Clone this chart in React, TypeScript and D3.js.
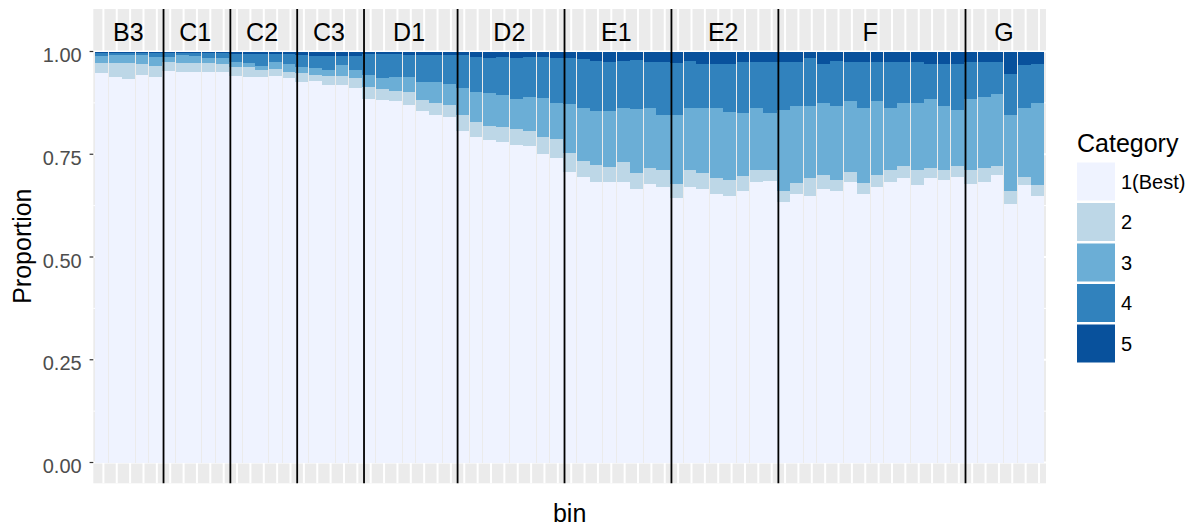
import React from 'react';
import * as d3 from 'd3';

// ---- data ----
const groups = ['B3', 'C1', 'C2', 'C3', 'D1', 'D2', 'E1', 'E2', 'F', 'G'];
const groupSizes = [5, 5, 5, 5, 7, 8, 8, 8, 14, 6];
const categories = ['1(Best)', '2', '3', '4', '5'];
const categoryColors = ['#EFF3FF', '#BDD7E7', '#6BAED6', '#3182BD', '#08519C'];

const cat1 = [
  0.947, 0.937, 0.932, 0.943, 0.937,
  0.953, 0.949, 0.949, 0.949, 0.949,
  0.940, 0.937, 0.937, 0.940, 0.935,
  0.927, 0.929, 0.919, 0.919, 0.910,
  0.884, 0.882, 0.880, 0.871, 0.855, 0.846, 0.841,
  0.807, 0.793, 0.785, 0.781, 0.772, 0.769, 0.751, 0.742,
  0.708, 0.695, 0.682, 0.682, 0.683, 0.666, 0.678, 0.670,
  0.644, 0.671, 0.666, 0.653, 0.648, 0.661, 0.682, 0.686,
  0.635, 0.653, 0.648, 0.666, 0.661, 0.682, 0.653, 0.670, 0.682, 0.691, 0.674, 0.691, 0.687, 0.695,
  0.678, 0.682, 0.700, 0.628, 0.675, 0.648,
];
const cat2 = [
  0.026, 0.034, 0.039, 0.027, 0.028,
  0.022, 0.022, 0.022, 0.022, 0.021,
  0.023, 0.025, 0.018, 0.017, 0.016,
  0.020, 0.014, 0.021, 0.021, 0.025,
  0.030, 0.026, 0.025, 0.030, 0.027, 0.029, 0.030,
  0.039, 0.035, 0.034, 0.035, 0.039, 0.038, 0.042, 0.044,
  0.046, 0.039, 0.042, 0.038, 0.047, 0.038, 0.038, 0.042,
  0.034, 0.041, 0.038, 0.038, 0.039, 0.035, 0.030, 0.026,
  0.026, 0.028, 0.043, 0.034, 0.026, 0.026, 0.028, 0.030, 0.030, 0.030, 0.038, 0.026, 0.025, 0.026,
  0.034, 0.035, 0.021, 0.033, 0.020, 0.027,
];
const cat3 = [
  0.017, 0.020, 0.020, 0.021, 0.022,
  0.012, 0.020, 0.018, 0.012, 0.013,
  0.012, 0.011, 0.010, 0.018, 0.019,
  0.016, 0.016, 0.015, 0.027, 0.020,
  0.030, 0.027, 0.034, 0.038, 0.045, 0.052, 0.051,
  0.064, 0.073, 0.079, 0.078, 0.073, 0.083, 0.095, 0.089,
  0.118, 0.128, 0.131, 0.135, 0.132, 0.155, 0.146, 0.134,
  0.168, 0.150, 0.158, 0.171, 0.167, 0.154, 0.150, 0.138,
  0.197, 0.186, 0.176, 0.175, 0.180, 0.172, 0.181, 0.180, 0.150, 0.154, 0.163, 0.167, 0.155, 0.137,
  0.172, 0.172, 0.176, 0.185, 0.167, 0.200,
];
const cat4 = [
  0.007, 0.006, 0.006, 0.006, 0.010,
  0.009, 0.006, 0.008, 0.013, 0.013,
  0.019, 0.020, 0.028, 0.019, 0.023,
  0.029, 0.031, 0.035, 0.023, 0.035,
  0.051, 0.059, 0.055, 0.053, 0.065, 0.065, 0.070,
  0.082, 0.086, 0.085, 0.093, 0.099, 0.097, 0.099, 0.108,
  0.111, 0.120, 0.123, 0.120, 0.116, 0.120, 0.112, 0.128,
  0.125, 0.116, 0.108, 0.108, 0.116, 0.124, 0.112, 0.124,
  0.117, 0.108, 0.116, 0.095, 0.111, 0.094, 0.112, 0.094, 0.112, 0.099, 0.099, 0.086, 0.103, 0.112,
  0.090, 0.085, 0.077, 0.099, 0.104, 0.095,
];
const cat5 = [
  0.003, 0.003, 0.003, 0.003, 0.003,
  0.004, 0.003, 0.003, 0.004, 0.004,
  0.006, 0.007, 0.007, 0.006, 0.007,
  0.008, 0.010, 0.010, 0.010, 0.010,
  0.005, 0.006, 0.006, 0.008, 0.008, 0.008, 0.008,
  0.008, 0.013, 0.017, 0.013, 0.017, 0.013, 0.013, 0.017,
  0.017, 0.018, 0.022, 0.025, 0.022, 0.021, 0.026, 0.026,
  0.029, 0.022, 0.030, 0.030, 0.030, 0.026, 0.026, 0.026,
  0.025, 0.025, 0.017, 0.030, 0.022, 0.026, 0.026, 0.026, 0.026, 0.026, 0.026, 0.030, 0.030, 0.030,
  0.026, 0.026, 0.026, 0.055, 0.034, 0.030,
];

const yTicks = [0, 0.25, 0.5, 0.75, 1];
const yTickLabels = ['0.00', '0.25', '0.50', '0.75', '1.00'];
const yMinorTicks = [0.125, 0.375, 0.625, 0.875];

// ---- layout / style ----
const W = 1204;
const H = 529;
const FONT = '"Liberation Sans", Arial, sans-serif';
const PANEL_BG = '#EBEBEB';
const GRID_SHIFT = 1.7; // px offset of grid and separators relative to bar edges
const SEAM_PHASE = [1, 3, 4];

const App = () => {
  const n = cat1.length;
  const keys = ['c1', 'c2', 'c3', 'c4', 'c5'];
  const rows = d3.range(n).map((i) => ({
    i,
    c1: cat1[i],
    c2: cat2[i],
    c3: cat3[i],
    c4: cat4[i],
    c5: cat5[i],
  }));
  const stacked = d3.stack<any>().keys(keys)(rows);

  const x = d3.scaleLinear().domain([0, n]).range([95, 1044]);
  const y = d3.scaleLinear().domain([0, 1]).range([462.5, 51.5]);
  const panelLeft = x(0) - 1.7;
  const panelRight = x(n) + 2;
  const panelTop = y(1.1034);
  const panelBottom = y(-0.0506);

  const starts: number[] = [];
  let acc = 0;
  groupSizes.forEach((s) => {
    starts.push(acc);
    acc += s;
  });
  const boundaries = starts.slice(1);
  const boundarySet = new Set(boundaries);

  const seams = d3
    .range(1, n)
    .filter((k) => !boundarySet.has(k) && SEAM_PHASE.includes(k % 5));

  const color = d3.scaleOrdinal<string, string>().domain(keys).range(categoryColors);

  const legendX = 1077;
  const legendTop = 162.5;
  const keySize = 38;
  const keyStep = 40.5;

  return (
    <svg
      width={W}
      height={H}
      style={{ position: 'absolute', left: 0, top: 0, display: 'block', background: '#fff' }}
      fontFamily={FONT}
    >
      {/* panel background */}
      <rect
        x={panelLeft}
        y={panelTop}
        width={panelRight - panelLeft}
        height={panelBottom - panelTop}
        fill={PANEL_BG}
      />
      {/* minor y grid */}
      {yMinorTicks.map((t) => (
        <line key={'ym' + t} x1={panelLeft} x2={panelRight} y1={y(t)} y2={y(t)} stroke="#fff" strokeWidth={1} />
      ))}
      {/* major y grid */}
      {yTicks.map((t) => (
        <line key={'yM' + t} x1={panelLeft} x2={panelRight} y1={y(t)} y2={y(t)} stroke="#fff" strokeWidth={2} />
      ))}
      {/* x grid at bar centres */}
      {d3.range(n).map((k) => (
        <line
          key={'xg' + k}
          x1={x(k + 0.5) + GRID_SHIFT}
          x2={x(k + 0.5) + GRID_SHIFT}
          y1={panelTop}
          y2={panelBottom}
          stroke="#fff"
          strokeWidth={2}
        />
      ))}
      {/* stacked bars */}
      {stacked.map((layer) => (
        <g key={layer.key} fill={color(layer.key)}>
          {layer.map((d, k) => (
            <rect
              key={k}
              x={x(k)}
              width={x(k + 1) - x(k)}
              y={y(d[1])}
              height={y(d[0]) - y(d[1])}
              shapeRendering="crispEdges"
            />
          ))}
        </g>
      ))}
      {/* thin gaps between bars */}
      {seams.map((k) => (
        <line
          key={'s' + k}
          x1={Math.floor(x(k)) + 0.5}
          x2={Math.floor(x(k)) + 0.5}
          y1={y(1)}
          y2={y(0)}
          stroke={PANEL_BG}
          strokeWidth={1}
          shapeRendering="crispEdges"
        />
      ))}
      {/* group separators */}
      {boundaries.map((b) => (
        <line
          key={'b' + b}
          x1={x(b) + GRID_SHIFT}
          x2={x(b) + GRID_SHIFT}
          y1={panelTop}
          y2={panelBottom}
          stroke="#000"
          strokeWidth={1.8}
        />
      ))}
      {/* group labels */}
      {groups.map((g, gi) => (
        <text
          key={g}
          x={x(starts[gi] + groupSizes[gi] / 2)}
          y={y(1.047) + 9}
          textAnchor="middle"
          fontSize={25}
          fill="#000"
        >
          {g}
        </text>
      ))}
      {/* y axis ticks and labels */}
      {yTicks.map((t, i) => (
        <g key={'yt' + t}>
          <line x1={panelLeft - 3.7} x2={panelLeft} y1={y(t)} y2={y(t)} stroke="#333" strokeWidth={1.2} />
          <text x={81.7} y={y(t) + 10.5} textAnchor="end" fontSize={20} fill="#4D4D4D">
            {yTickLabels[i]}
          </text>
        </g>
      ))}
      {/* axis titles */}
      <text
        transform={`translate(31,${(panelTop + panelBottom) / 2}) rotate(-90)`}
        textAnchor="middle"
        fontSize={25}
        fill="#000"
      >
        Proportion
      </text>
      <text x={(panelLeft + panelRight) / 2} y={521.5} textAnchor="middle" fontSize={25} fill="#000">
        bin
      </text>
      {/* legend */}
      <text x={legendX} y={152} fontSize={25} fill="#000">
        Category
      </text>
      {categories.map((c, i) => (
        <g key={'lg' + c}>
          <rect
            x={legendX}
            y={legendTop + i * keyStep}
            width={keySize}
            height={keySize}
            fill={categoryColors[i]}
          />
          <text x={legendX + 44} y={legendTop + i * keyStep + keySize / 2 + 7} fontSize={20} fill="#000">
            {c}
          </text>
        </g>
      ))}
    </svg>
  );
};

export default App;
